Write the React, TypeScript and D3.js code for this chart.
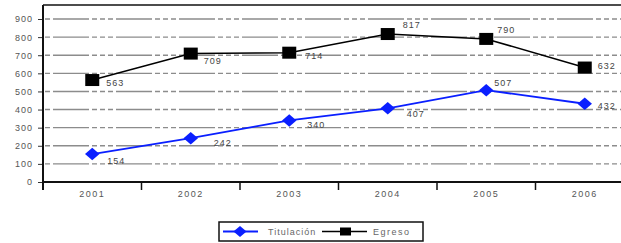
import React, { useEffect, useRef } from 'react';
import * as d3 from 'd3';

const years = ['2001', '2002', '2003', '2004', '2005', '2006'];
const titulacion = [154, 242, 340, 407, 507, 432];
const egreso = [563, 709, 714, 817, 790, 632];
const yTicks = [0, 100, 200, 300, 400, 500, 600, 700, 800, 900];

// where excel put the data labels, relative to each marker
const titOffsets = [[15, 7], [23, 5], [18, 5], [19, 6], [8, -7], [13, 2]];
const egrOffsets = [[14, 3], [13, 7], [16, 3], [15, -9], [11, -9], [13, -2]];

const W = 621;
const H = 243;
const left = 43;
const bottom = 182;
const band = 98.5;
const font = 'Liberation Sans, Arial, sans-serif';

export default function App() {
  const ref = useRef<SVGSVGElement>(null);

  useEffect(() => {
    const svg = d3.select(ref.current);
    svg.selectAll('*').remove();

    const x = d3.scaleBand().domain(years).range([left, left + band * years.length]);
    const y = d3.scaleLinear().domain([0, 900]).range([bottom, 19]);
    const cx = (d: string) => (x(d) as number) + x.bandwidth() / 2;

    // gridlines
    svg.append('g')
      .selectAll('line')
      .data(yTicks.slice(1))
      .enter()
      .append('line')
      .attr('x1', left)
      .attr('x2', W)
      .attr('y1', d => y(d))
      .attr('y2', d => y(d))
      .attr('stroke', '#8c8c8c')
      .attr('stroke-width', 1.4)
      .attr('stroke-dasharray', '36,3,5,3,5,3,5,3')
      .attr('stroke-dashoffset', 53);

    // frame top
    svg.append('line')
      .attr('x1', left).attr('x2', W)
      .attr('y1', 5).attr('y2', 5)
      .attr('stroke', '#111').attr('stroke-width', 1.5);

    // y axis
    const yAxis = d3.axisLeft(y).tickValues(yTicks).tickSize(5).tickPadding(5);
    const gy = svg.append('g')
      .attr('transform', `translate(${left},0)`)
      .call(yAxis);
    gy.select('path').remove();
    gy.selectAll('line').attr('stroke', '#333');
    gy.selectAll('text')
      .attr('font-family', font)
      .attr('font-size', 9)
      .attr('letter-spacing', 1)
      .attr('fill', '#555');
    svg.append('line')
      .attr('x1', left).attr('x2', left)
      .attr('y1', 5).attr('y2', bottom + 8)
      .attr('stroke', '#111').attr('stroke-width', 2);

    // x axis
    svg.append('line')
      .attr('x1', left - 1).attr('x2', W)
      .attr('y1', bottom).attr('y2', bottom)
      .attr('stroke', '#111').attr('stroke-width', 1.8);
    svg.append('g')
      .selectAll('line')
      .data(years.slice(1))
      .enter()
      .append('line')
      .attr('x1', d => x(d) as number)
      .attr('x2', d => x(d) as number)
      .attr('y1', bottom)
      .attr('y2', bottom + 8)
      .attr('stroke', '#111')
      .attr('stroke-width', 1.5);
    svg.append('g')
      .selectAll('text')
      .data(years)
      .enter()
      .append('text')
      .attr('x', d => cx(d))
      .attr('y', bottom + 15)
      .attr('text-anchor', 'middle')
      .attr('font-family', font)
      .attr('font-size', 9)
      .attr('letter-spacing', 1.5)
      .attr('fill', '#555')
      .text(d => d);

    const line = d3.line<number>()
      .x((d, i) => cx(years[i]))
      .y(d => y(d));

    // egreso
    svg.append('path')
      .attr('d', line(egreso))
      .attr('fill', 'none')
      .attr('stroke', '#000')
      .attr('stroke-width', 1.5);
    svg.append('g')
      .selectAll('rect')
      .data(egreso)
      .enter()
      .append('rect')
      .attr('x', (d, i) => cx(years[i]) - 7)
      .attr('y', d => y(d) - 6)
      .attr('width', 14)
      .attr('height', 12)
      .attr('fill', '#000');

    // titulacion
    const diamond = d3.symbol().type(d3.symbolDiamond2).size(110);
    svg.append('path')
      .attr('d', line(titulacion))
      .attr('fill', 'none')
      .attr('stroke', '#0a1fff')
      .attr('stroke-width', 1.8);
    svg.append('g')
      .selectAll('path')
      .data(titulacion)
      .enter()
      .append('path')
      .attr('d', diamond)
      .attr('transform', (d, i) => `translate(${cx(years[i])},${y(d)}) scale(1.1,0.95)`)
      .attr('fill', '#0a1fff');

    // data labels
    const labels = (vals: number[], offs: number[][]) =>
      svg.append('g')
        .selectAll('text')
        .data(vals)
        .enter()
        .append('text')
        .attr('x', (d, i) => cx(years[i]) + offs[i][0])
        .attr('y', (d, i) => y(d) + offs[i][1] + 3)
        .attr('font-family', font)
        .attr('font-size', 9)
        .attr('letter-spacing', 1)
        .attr('fill', '#444')
        .text(d => d);
    labels(titulacion, titOffsets);
    labels(egreso, egrOffsets);

    // legend
    const lg = svg.append('g');
    lg.append('rect')
      .attr('x', 219).attr('y', 222)
      .attr('width', 204).attr('height', 19)
      .attr('fill', '#fff')
      .attr('stroke', '#111').attr('stroke-width', 1.5);
    lg.append('line')
      .attr('x1', 223).attr('x2', 258).attr('y1', 231.5).attr('y2', 231.5)
      .attr('stroke', '#0a1fff').attr('stroke-width', 1.8);
    lg.append('path')
      .attr('d', diamond)
      .attr('transform', 'translate(240,231.5) scale(1,0.85)')
      .attr('fill', '#0a1fff');
    lg.append('text')
      .attr('x', 268).attr('y', 234.5)
      .attr('font-family', font)
      .attr('font-size', 9).attr('letter-spacing', 1).attr('fill', '#666')
      .text('Titulación');
    lg.append('line')
      .attr('x1', 322).attr('x2', 367).attr('y1', 231.5).attr('y2', 231.5)
      .attr('stroke', '#000').attr('stroke-width', 1.5);
    lg.append('rect')
      .attr('x', 340).attr('y', 227.5).attr('width', 11).attr('height', 8)
      .attr('fill', '#000');
    lg.append('text')
      .attr('x', 373).attr('y', 234.5)
      .attr('font-family', font)
      .attr('font-size', 9).attr('letter-spacing', 1.5).attr('fill', '#666')
      .text('Egreso');
  }, []);

  return (
    <svg
      ref={ref}
      width={W}
      height={H}
      style={{ position: 'absolute', left: 0, top: 0, background: '#fff' }}
    />
  );
}
